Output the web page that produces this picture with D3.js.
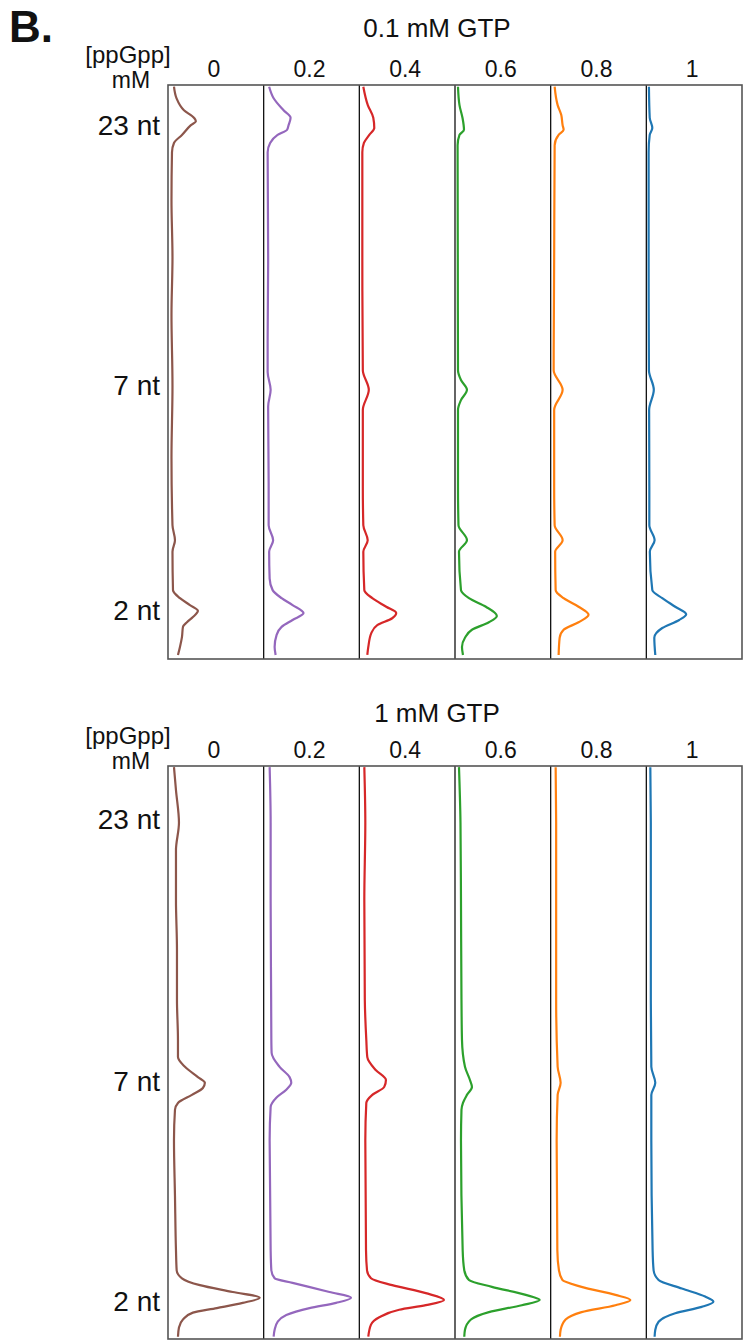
<!DOCTYPE html>
<meta charset="utf-8">
<head>
  <title>Gel lane profiles</title>
</head>
<style>
body {
  margin: 0;
  background: #fff;
  font-family: Arial, "Liberation Sans", Helvetica, sans-serif;
}
text {
  fill: #111;
}
</style>
<body>
<svg width="752" height="1340"></svg>
<script src="https://cdnjs.cloudflare.com/ajax/libs/d3/7.8.5/d3.min.js"></script>
<script>
// lane labels: [ppGpp] in mM
var concs = ["0", "0.2", "0.4", "0.6", "0.8", "1"];
var colors = ["#8c564b", "#9467bd", "#d62728", "#2ca02c", "#ff7f0e", "#1f77b4"];

// marker bands, position in % of lane length
var bandLabels = ["23 nt", "7 nt", "2 nt"];
var bandsLow = [7.1, 52.4, 91.6];
var bandsHigh = [9.4, 55.0, 93.5];

// profiles: [position %, intensity] -- 0.1 mM GTP
var low_0 = [[0.3,6],[2.3,8.5],[4.4,16],[5.7,26],[6.3,28],[7.0,23],[8.7,14],[10.1,6],[11.7,4],[20,3.5],[30.1,4.5],[40,3.5],[52.4,4.5],[65,3.5],[76.7,4.5],[79.3,7],[81.3,4.5],[88.0,5],[89.4,12],[90.6,22],[91.6,30],[92.7,25],[93.6,19],[94.4,15],[96.2,14],[97.9,12],[99.3,10]];
var low_1 = [[0.3,5.5],[2.3,10],[4.4,20],[5.7,27],[7.0,25],[7.8,23.5],[8.7,14],[10.1,6.5],[11.7,4],[30.1,4.5],[45,4],[50,4],[53.1,7],[56,4.5],[70,5],[76.7,5],[79.3,9.5],[81.3,5.5],[86,6],[88.0,9],[89.4,18],[90.6,29],[92.0,40],[93.2,29],[94.4,18],[95.8,13],[97.9,11],[99.3,12]];
var low_2 = [[0.3,4],[3.5,8.5],[5.7,14],[7.5,15],[8.7,10],[10.1,4.6],[11.7,3],[30,3],[49.7,3.5],[53.1,9.5],[56.6,3.5],[70,3.5],[76.7,4],[79.3,8.4],[81.3,4],[88.0,5],[89.4,13],[90.9,27],[92.0,37],[92.9,33],[94.1,18],[95.5,12],[97.9,9],[99.3,8]];
var low_3 = [[0.3,3],[3.5,4.5],[5.7,7.5],[7.8,9],[8.7,4.5],[10.5,2.6],[30,2.8],[49.7,3],[51.4,6],[53.1,12],[54.9,6],[56.6,3],[70,3],[76.7,3.5],[79.3,12],[81.3,4],[88.0,6],[89.4,14],[90.9,31],[92.5,42],[93.6,34],[94.9,17],[96.3,10],[97.9,7],[99.3,8]];
var low_4 = [[0.3,4],[3.5,7],[5.2,10.6],[7.0,12],[7.8,13],[8.7,8],[10.5,4],[30,3.5],[49.7,3],[53.1,12],[56.6,3.5],[70,3.5],[76.7,4],[79.3,12],[81.3,4.5],[88.0,5],[89.4,13],[90.9,28],[92.3,38],[93.6,28],[94.9,13],[96.3,9],[99.3,8]];
var low_5 = [[0.3,2.6],[5.7,3.4],[7.5,6],[8.7,3.4],[11.7,2.3],[30,2.3],[49.7,2.6],[53.1,7.5],[56.6,2.8],[70,3],[76.7,3],[79.3,8.3],[81.3,3.5],[88.0,6],[89.4,16],[90.9,29],[92.2,40],[93.2,33],[94.6,16],[96.3,8],[99.3,9]];

// profiles -- 1 mM GTP
var high_0 = [[0.2,6],[4.2,8],[9.9,11],[14.7,8],[23.4,8],[32.1,9],[40.8,9],[47.8,10],[50.8,10],[52.5,17],[54.3,30],[55.3,37],[56.2,35],[57.4,24],[58.8,10],[60.0,7],[65.3,6],[75,7],[84.5,8],[88.0,8.7],[89.4,14],[90.6,32],[91.8,65],[92.8,92],[93.7,75],[94.6,49],[95.4,25],[96.6,15],[98.0,11],[99.6,10]];
var high_1 = [[0.2,6],[9.9,7],[23.4,7],[40.8,7.5],[47.8,7.7],[50.1,8],[52.5,16],[54.3,26],[55.3,27.7],[56.5,22.7],[57.9,12.7],[59.5,7],[65.3,6],[84.5,7],[88.0,7.7],[89.4,11],[90.2,29],[91.8,66],[92.8,87.7],[93.7,72.7],[94.6,46],[95.8,22.7],[97.0,14],[98.4,11],[99.6,10]];
var high_2 = [[0.2,5],[9.9,6],[23.4,5],[40.8,5.5],[47.8,7],[50.8,8],[53.1,16.7],[54.8,26.7],[56.0,25],[57.4,13],[58.8,7],[65.3,6],[84.5,6.7],[88.0,7.7],[89.4,11.7],[90.6,33],[92.0,66.7],[93.2,85],[94.1,66.7],[94.9,40],[96.2,20],[97.5,11.7],[99.6,9]];
var high_3 = [[0.2,4],[9.9,5.5],[23.4,6],[40.8,6.5],[47.8,7],[52.5,10],[54.8,15],[56.0,17],[57.4,12],[58.8,8],[60.0,6.5],[65.3,6],[84.5,7.7],[88.0,9.3],[89.7,14],[90.9,37],[92.3,71],[93.2,85],[94.1,67],[95.3,34],[96.6,16],[98.4,10],[99.6,9.3]];
var high_4 = [[0.2,5],[9.9,5.5],[23.4,5.5],[40.8,5.5],[52.5,7],[55.3,10],[57.4,7],[65.3,6],[84.5,6.7],[88.0,8.3],[89.7,11.7],[90.9,31],[92.3,65],[93.2,80],[94.1,65],[95.3,31],[96.6,15],[98.4,10],[99.6,9.3]];
var high_5 = [[0.2,4],[9.9,4.5],[23.4,4.5],[40.8,4.5],[52.5,5],[55.3,9],[57.4,5],[65.3,5],[84.5,6.3],[88.0,7.3],[89.7,12.3],[91.2,35.6],[92.6,59],[93.5,67.3],[94.4,55.6],[95.5,29],[97.0,12.3],[98.4,9],[99.6,8.3]];

var panels = [
  {title: "0.1 mM GTP", lanes: [low_0, low_1, low_2, low_3, low_4, low_5], bands: bandsLow,
   top: 85, bottom: 659, titleY: 37, labelY: 77},
  {title: "1 mM GTP", lanes: [high_0, high_1, high_2, high_3, high_4, high_5], bands: bandsHigh,
   top: 766, bottom: 1339, titleY: 722, labelY: 758}
];

var svg = d3.select("svg");

svg.append("text")
  .attr("x", 9).attr("y", 42)
  .style("font-size", "44px").style("font-weight", "bold")
  .text("B.");

var x = d3.scaleBand().domain(concs).range([168, 742]);
var inten = d3.scaleLinear().domain([0, 96]).range([0, x.bandwidth()]);

panels.forEach(function(p) {
  var y = d3.scaleLinear().domain([0, 100]).range([p.top, p.bottom]);
  var g = svg.append("g");

  g.append("text")
    .attr("x", 437).attr("y", p.titleY)
    .attr("text-anchor", "middle")
    .style("font-size", "26px")
    .text(p.title);

  g.append("text")
    .attr("x", 128).attr("y", p.top - 22)
    .attr("text-anchor", "middle")
    .style("font-size", "24px")
    .text("[ppGpp]");
  g.append("text")
    .attr("x", 131).attr("y", p.top + 3)
    .attr("text-anchor", "middle")
    .style("font-size", "23px")
    .text("mM");

  g.selectAll(".conc")
    .data(concs)
    .enter().append("text")
    .attr("class", "conc")
    .attr("x", function(d) { return x(d) + x.bandwidth() / 2 - 2; })
    .attr("y", p.labelY)
    .attr("text-anchor", "middle")
    .style("font-size", "23px")
    .text(function(d) { return d; });

  var yAxis = d3.axisLeft(y)
    .tickValues(p.bands)
    .tickFormat(function(d, i) { return bandLabels[i]; })
    .tickSize(0)
    .tickPadding(8);
  var ax = g.append("g").attr("transform", "translate(168,0)").call(yAxis);
  ax.select(".domain").remove();
  ax.selectAll("text")
    .style("font-size", "28px")
    .style("font-family", "Arial, 'Liberation Sans', sans-serif")
    .attr("fill", "#111");

  var line = d3.line()
    .x(function(d) { return inten(d[1]); })
    .y(function(d) { return y(d[0]); })
    .curve(d3.curveMonotoneY);

  g.selectAll(".lane")
    .data(p.lanes)
    .enter().append("path")
    .attr("class", "lane")
    .attr("transform", function(d, i) { return "translate(" + x(concs[i]) + ",0)"; })
    .attr("fill", "none")
    .attr("stroke", function(d, i) { return colors[i]; })
    .attr("stroke-width", 2.2)
    .attr("stroke-linejoin", "round")
    .attr("d", line);

  g.selectAll(".div")
    .data(concs.slice(1))
    .enter().append("line")
    .attr("class", "div")
    .attr("x1", function(d) { return x(d); })
    .attr("x2", function(d) { return x(d); })
    .attr("y1", p.top).attr("y2", p.bottom)
    .attr("stroke", "#111")
    .attr("stroke-width", 1.3);

  g.append("rect")
    .attr("x", 168).attr("y", p.top)
    .attr("width", 742 - 168).attr("height", p.bottom - p.top)
    .attr("fill", "none")
    .attr("stroke", "#555")
    .attr("stroke-width", 1.6);
});
</script>
</body>
</html>
